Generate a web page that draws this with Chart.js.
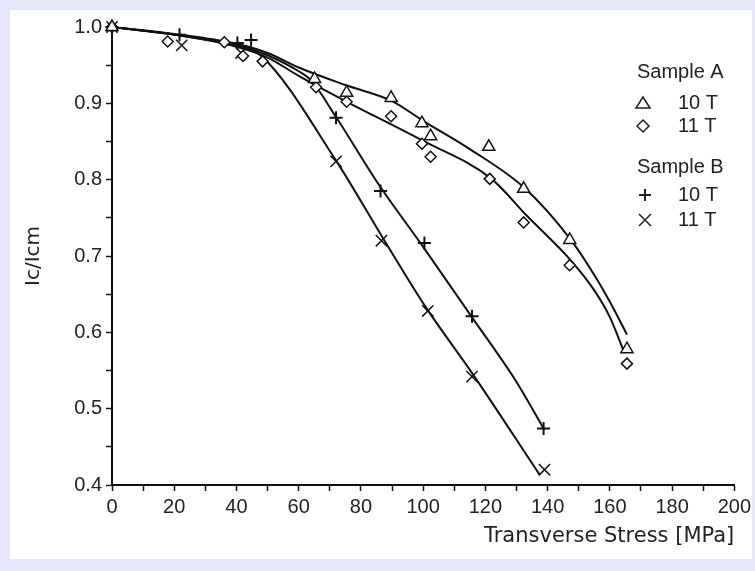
<!DOCTYPE html>
<html>
<head>
<meta charset="utf-8">
<script src="https://cdn.jsdelivr.net/npm/chart.js"></script>
<style>
  html, body { margin: 0; padding: 0; background: #e6e6fa; }
  #wrap { position: absolute; left: 0; top: 0; width: 755px; height: 571px; }
</style>
</head>
<body>
<div id="wrap"><canvas id="chartIc"></canvas></div>
<script>
// tick labels
const stressLabels = [0, 20, 40, 60, 80, 100, 120, 140, 160, 180, 200];
const icLabels = [0.4, 0.5, 0.6, 0.7, 0.8, 0.9, 1.0];

// Sample A, 10 T (triangles)
const a10Stress = [0, 65.1, 75.4, 89.7, 99.6, 102.4, 121.1, 132.3, 147.1, 165.5];
const a10Ic     = [1.0, 0.932, 0.914, 0.907, 0.874, 0.857, 0.843, 0.788, 0.721, 0.578];
// Sample A, 11 T (diamonds)
const a11Stress = [0, 17.9, 36.1, 42.1, 48.4, 65.6, 75.4, 89.7, 99.6, 102.4, 121.4, 132.3, 147.1, 165.5];
const a11Ic     = [1.0, 0.981, 0.980, 0.962, 0.955, 0.921, 0.902, 0.883, 0.847, 0.830, 0.801, 0.744, 0.688, 0.559];
// Sample B, 10 T (plus)
const b10Stress = [0, 21.7, 40.3, 44.7, 72.0, 86.3, 100.4, 115.7, 138.7];
const b10Ic     = [1.0, 0.990, 0.979, 0.983, 0.881, 0.785, 0.717, 0.621, 0.474];
// Sample B, 11 T (x)
const b11Stress = [0, 22.4, 41.5, 72.0, 86.6, 101.5, 115.7, 139.0];
const b11Ic     = [1.0, 0.976, 0.966, 0.824, 0.720, 0.628, 0.542, 0.420];

// drawn fit curves
const a10FitStress = [0, 20, 40, 50, 60, 75, 90, 100, 115, 132.6, 147.3, 155, 160, 165.5];
const a10FitIc     = [1.0, 0.991, 0.978, 0.966, 0.947, 0.924, 0.903, 0.877, 0.840, 0.789, 0.722, 0.675, 0.640, 0.597];
const a11FitStress = [0, 20, 40, 50, 60, 75, 99.4, 121.7, 133.5, 147.3, 155, 160, 164.5];
const a11FitIc     = [1.0, 0.990, 0.974, 0.960, 0.936, 0.903, 0.852, 0.802, 0.752, 0.695, 0.655, 0.620, 0.575];
const b10FitStress = [0, 20, 40, 50, 60, 64, 72, 86, 100, 116, 130, 139];
const b10FitIc     = [1.0, 0.990, 0.977, 0.963, 0.942, 0.930, 0.882, 0.792, 0.712, 0.618, 0.535, 0.472];
const b11FitStress = [0, 20, 40, 48, 72, 87, 101, 116, 137.5];
const b11FitIc     = [1.0, 0.990, 0.975, 0.962, 0.825, 0.724, 0.632, 0.545, 0.413];

const toPts = (xs, ys) => xs.map((x, i) => ({ x: x, y: ys[i] }));

function markerSet(xs, ys, style, r, bw) {
  return {
    data: toPts(xs, ys),
    showLine: false,
    clip: false,
    pointStyle: style,
    pointRadius: r,
    pointBorderWidth: bw,
    pointBorderColor: '#111',
    pointBackgroundColor: '#fff'
  };
}
function curveSet(xs, ys) {
  return {
    data: toPts(xs, ys),
    showLine: true,
    borderColor: '#111',
    borderWidth: 2,
    pointRadius: 0,
    cubicInterpolationMode: 'monotone'
  };
}

// page frame + hand-lettered legend
const framePlugin = {
  id: 'frame',
  beforeDraw(chart) {
    const c = chart.ctx;
    c.save();
    c.fillStyle = '#e6e6fa';
    c.fillRect(0, 0, chart.width, chart.height);
    c.fillStyle = '#fff';
    c.fillRect(10, 10, 742, 549);
    c.restore();
  },
  afterDraw(chart) {
    const c = chart.ctx;
    c.save();
    c.fillStyle = '#222';
    c.strokeStyle = '#222';
    c.lineWidth = 1.5;
    c.font = '20px "Liberation Sans"';
    c.textBaseline = 'middle';
    c.fillText('Sample A', 637, 72);
    c.fillText('10 T', 678, 103);
    c.fillText('11 T', 678, 126);
    c.fillText('Sample B', 637, 167);
    c.fillText('10 T', 678, 195);
    c.fillText('11 T', 678, 220);
    // triangle
    c.beginPath();
    c.moveTo(643, 97); c.lineTo(650, 108); c.lineTo(636, 108); c.closePath();
    c.stroke();
    // diamond
    c.beginPath();
    c.moveTo(643, 120); c.lineTo(649, 126); c.lineTo(643, 132); c.lineTo(637, 126); c.closePath();
    c.stroke();
    // plus
    c.lineWidth = 2;
    c.beginPath();
    c.moveTo(639, 195); c.lineTo(651, 195);
    c.moveTo(645, 189); c.lineTo(645, 201);
    c.stroke();
    // cross
    c.lineWidth = 1.5;
    c.beginPath();
    c.moveTo(639, 214); c.lineTo(651, 226);
    c.moveTo(651, 214); c.lineTo(639, 226);
    c.stroke();
    c.restore();
  }
};

const tickFont = { family: 'Liberation Sans', size: 20 };

new Chart(document.getElementById('chartIc'), {
  type: 'scatter',
  data: {
    datasets: [
      markerSet(a10Stress, a10Ic, 'triangle', 7, 1.5),
      markerSet(a11Stress, a11Ic, 'rectRot', 5.5, 1.5),
      markerSet(b10Stress, b10Ic, 'cross', 6.5, 2),
      markerSet(b11Stress, b11Ic, 'crossRot', 8, 1.5),
      curveSet(a10FitStress, a10FitIc),
      curveSet(a11FitStress, a11FitIc),
      curveSet(b10FitStress, b10FitIc),
      curveSet(b11FitStress, b11FitIc)
    ]
  },
  options: {
    responsive: true,
    maintainAspectRatio: false,
    animation: false,
    layout: { padding: { top: 27, right: 17, left: 0, bottom: 0 } },
    plugins: { legend: { display: false }, tooltip: { enabled: false } },
    scales: {
      x: {
        type: 'linear',
        min: 0, max: 200,
        afterFit(scale) { scale.height = 86; },
        grid: { drawOnChartArea: false, tickLength: 6, tickColor: '#111', tickWidth: 1.5 },
        border: { color: '#111', width: 2 },
        ticks: {
          stepSize: 10,
          autoSkip: false,
          maxRotation: 0,
          padding: 4,
          color: '#222',
          font: tickFont,
          callback: v => stressLabels.includes(v) ? String(v) : ''
        },
        title: {
          display: true,
          text: 'Transverse Stress [MPa]',
          align: 'end',
          color: '#222',
          font: { family: 'DejaVu Sans', size: 21 },
          padding: { top: 0, bottom: 22 }
        }
      },
      y: {
        min: 0.4, max: 1.0,
        afterFit(scale) { scale.width = 112; },
        grid: { drawOnChartArea: false, tickLength: 6, tickColor: '#111', tickWidth: 1.5 },
        border: { color: '#111', width: 2 },
        ticks: {
          stepSize: 0.05,
          autoSkip: false,
          padding: 4,
          color: '#222',
          font: tickFont,
          callback: v => icLabels.some(l => Math.abs(l - v) < 1e-6) ? v.toFixed(1) : ''
        },
        title: {
          display: true,
          text: 'Ic/Icm',
          color: '#222',
          font: { family: 'DejaVu Sans', size: 20 },
          padding: { top: 22, bottom: 0 }
        }
      }
    }
  },
  plugins: [framePlugin]
});
</script>
</body>
</html>
